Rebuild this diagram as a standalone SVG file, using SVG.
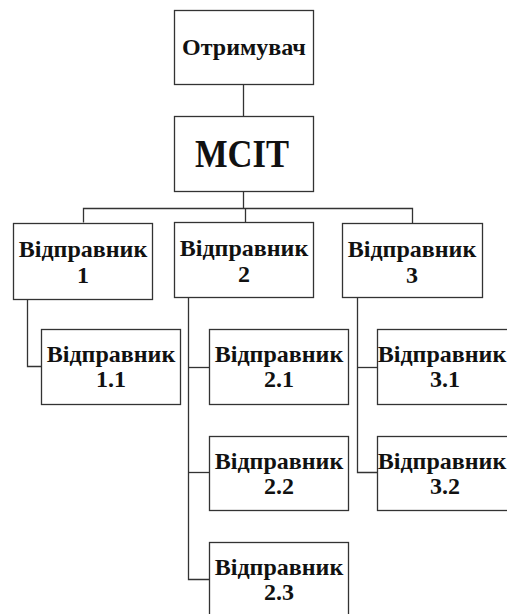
<svg xmlns="http://www.w3.org/2000/svg" width="507" height="614" viewBox="0 0 507 614">
  <style>
    .box { fill: #ffffff; stroke: #333333; stroke-width: 1.3; }
    .lbl { font-family: "Liberation Serif", "Times New Roman", serif; font-weight: bold; font-size: 24px; fill: #111111; text-anchor: middle; }
    .big { font-size: 40px; }
    #connectors path { fill: none; stroke: #333333; stroke-width: 1.3; }
  </style>
  <rect width="507" height="614" fill="#ffffff"/>

  <g id="connectors">
    <path d="M243.5,84 V116"/>
    <path d="M243.5,191 V208"/>
    <path d="M83.5,222.5 V208.5 H412.5 V223"/>
    <path d="M245.5,208 V222"/>
    <path d="M27.5,299 V366.5 H41"/>
    <path d="M188.5,297 V579.5 H209"/>
    <path d="M188.5,367.5 H209"/>
    <path d="M188.5,472.5 H209"/>
    <path d="M357.5,297 V472.5 H377"/>
    <path d="M357.5,367.5 H377"/>
  </g>

  <g id="receiver">
    <rect class="box" x="174.5" y="10.5" width="139" height="74"/>
    <text class="lbl" x="244" y="55">Отримувач</text>
  </g>

  <g id="mcit">
    <rect class="box" x="174.5" y="116.5" width="139" height="75"/>
    <text class="lbl big" x="242" y="167" textLength="94" lengthAdjust="spacingAndGlyphs">МСІТ</text>
  </g>

  <g id="sender-1">
    <rect class="box" x="13.5" y="223.5" width="139" height="76"/>
    <text class="lbl" x="83" y="257">Відправник</text>
    <text class="lbl" x="83" y="283">1</text>
  </g>

  <g id="sender-2">
    <rect class="box" x="174.5" y="222.5" width="139" height="75"/>
    <text class="lbl" x="244" y="256">Відправник</text>
    <text class="lbl" x="244" y="282">2</text>
  </g>

  <g id="sender-3">
    <rect class="box" x="342.5" y="223.5" width="140" height="74"/>
    <text class="lbl" x="412" y="257">Відправник</text>
    <text class="lbl" x="412" y="283">3</text>
  </g>

  <g id="sender-1-1">
    <rect class="box" x="41.5" y="329.5" width="139" height="75"/>
    <text class="lbl" x="111" y="362">Відправник</text>
    <text class="lbl" x="111" y="387">1.1</text>
  </g>

  <g id="sender-2-1">
    <rect class="box" x="209.5" y="329.5" width="139" height="75"/>
    <text class="lbl" x="279" y="362">Відправник</text>
    <text class="lbl" x="279" y="387">2.1</text>
  </g>

  <g id="sender-2-2">
    <rect class="box" x="209.5" y="436.5" width="139" height="74"/>
    <text class="lbl" x="279" y="469">Відправник</text>
    <text class="lbl" x="279" y="494">2.2</text>
  </g>

  <g id="sender-2-3">
    <rect class="box" x="209.5" y="542.5" width="139" height="75"/>
    <text class="lbl" x="279" y="575">Відправник</text>
    <text class="lbl" x="279" y="600">2.3</text>
  </g>

  <g id="sender-3-1">
    <rect class="box" x="377.5" y="329.5" width="139" height="75"/>
    <text class="lbl" x="442" y="362">Відправник</text>
    <text class="lbl" x="445" y="387">3.1</text>
  </g>

  <g id="sender-3-2">
    <rect class="box" x="377.5" y="436.5" width="139" height="74"/>
    <text class="lbl" x="442" y="469">Відправник</text>
    <text class="lbl" x="445" y="494">3.2</text>
  </g>
</svg>
